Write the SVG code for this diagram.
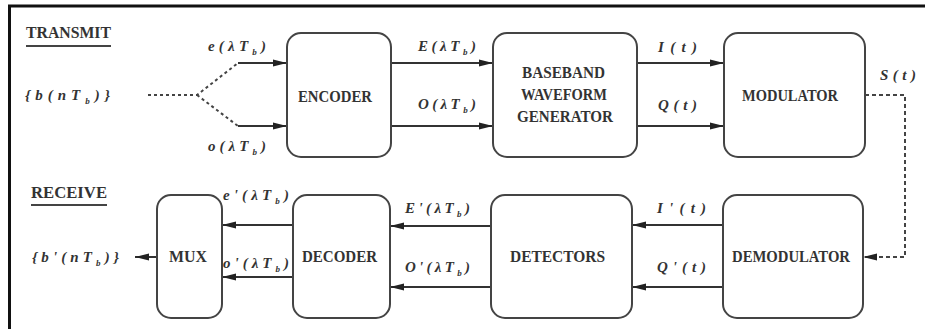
<svg xmlns="http://www.w3.org/2000/svg" width="925" height="329" viewBox="0 0 925 329">
<defs>
<marker id="ah" markerUnits="userSpaceOnUse" markerWidth="14" markerHeight="8" refX="14" refY="4" orient="auto">
<path d="M0,0.5 L14,4 L0,7.5 z" fill="#222"/>
</marker>
<style>
.box{fill:#fff;stroke:#444;stroke-width:2}
.lbl{font-family:"Liberation Serif","Times New Roman",serif;font-weight:bold;font-size:16px;fill:#333}
.m{font-family:"Liberation Serif","Times New Roman",serif;font-weight:bold;font-style:italic;font-size:15px;fill:#333}
.sub{font-size:9px}
.ln{fill:none;stroke:#333;stroke-width:2}
.dot{fill:none;stroke:#444;stroke-width:2;stroke-dasharray:3,3}
.dash{fill:none;stroke:#444;stroke-width:2;stroke-dasharray:4,3}
</style>
</defs>
<rect width="925" height="329" fill="#fff"/>
<path d="M8,6 H925 M9.5,5 V329" stroke="#111" stroke-width="3" fill="none"/>

<g id="titles">
<text class="lbl" x="26" y="38" textLength="85" lengthAdjust="spacingAndGlyphs">TRANSMIT</text>
<path d="M26,46 H111" stroke="#444" stroke-width="2"/>
<text class="lbl" x="31" y="198" textLength="76" lengthAdjust="spacingAndGlyphs">RECEIVE</text>
<path d="M31,205 H107" stroke="#444" stroke-width="2"/>
</g>

<g id="connectors">
<path class="dot" d="M148,95 H197 L238,63 M197,95 L238,126"/>
<path class="ln" d="M238,63 H287" marker-end="url(#ah)"/>
<path class="ln" d="M238,126 H287" marker-end="url(#ah)"/>
<path class="ln" d="M391,63 H493" marker-end="url(#ah)"/>
<path class="ln" d="M391,126 H493" marker-end="url(#ah)"/>
<path class="ln" d="M637,63 H724" marker-end="url(#ah)"/>
<path class="ln" d="M637,126 H724" marker-end="url(#ah)"/>
<path class="dash" d="M865,95 H905 V257 H863" marker-end="url(#ah)"/>
<path class="ln" d="M723,225 H632" marker-end="url(#ah)"/>
<path class="ln" d="M723,287 H632" marker-end="url(#ah)"/>
<path class="ln" d="M491,226 H390" marker-end="url(#ah)"/>
<path class="ln" d="M491,287 H390" marker-end="url(#ah)"/>
<path class="ln" d="M293,225 H222" marker-end="url(#ah)"/>
<path class="ln" d="M293,277 H222" marker-end="url(#ah)"/>
<path class="ln" d="M157,257 H135" marker-end="url(#ah)"/>
</g>

<g id="connector-labels">
<text class="m" x="25" y="100" textLength="85" lengthAdjust="spacing">{b(nT<tspan class="sub" dy="4">b</tspan><tspan dy="-4">)}</tspan></text>
<text class="m" x="208" y="51" textLength="58" lengthAdjust="spacing">e(λT<tspan class="sub" dy="4">b</tspan><tspan dy="-4">)</tspan></text>
<text class="m" x="208" y="151" textLength="58" lengthAdjust="spacing">o(λT<tspan class="sub" dy="4">b</tspan><tspan dy="-4">)</tspan></text>
<text class="m" x="418" y="51" textLength="58" lengthAdjust="spacing">E(λT<tspan class="sub" dy="4">b</tspan><tspan dy="-4">)</tspan></text>
<text class="m" x="418" y="109" textLength="58" lengthAdjust="spacing">O(λT<tspan class="sub" dy="4">b</tspan><tspan dy="-4">)</tspan></text>
<text class="m" x="658" y="52" textLength="39" lengthAdjust="spacing">I(t)</text>
<text class="m" x="658" y="110" textLength="39" lengthAdjust="spacing">Q(t)</text>
<text class="m" x="880" y="80" textLength="36" lengthAdjust="spacing">S(t)</text>
<text class="m" x="657" y="213" textLength="49" lengthAdjust="spacing">I'(t)</text>
<text class="m" x="657" y="272" textLength="49" lengthAdjust="spacing">Q'(t)</text>
<text class="m" x="405" y="213" textLength="65" lengthAdjust="spacing">E'(λT<tspan class="sub" dy="4">b</tspan><tspan dy="-4">)</tspan></text>
<text class="m" x="405" y="272" textLength="65" lengthAdjust="spacing">O'(λT<tspan class="sub" dy="4">b</tspan><tspan dy="-4">)</tspan></text>
<text class="m" x="223" y="200" textLength="66" lengthAdjust="spacing">e'(λT<tspan class="sub" dy="4">b</tspan><tspan dy="-4">)</tspan></text>
<text class="m" x="223" y="268" textLength="66" lengthAdjust="spacing">o'(λT<tspan class="sub" dy="4">b</tspan><tspan dy="-4">)</tspan></text>
<text class="m" x="32" y="262" textLength="87" lengthAdjust="spacing">{b'(nT<tspan class="sub" dy="4">b</tspan><tspan dy="-4">)}</tspan></text>
</g>

<g id="encoder">
<rect class="box" x="287" y="33" width="104" height="124" rx="14"/>
<text class="lbl" x="298" y="102" textLength="74" lengthAdjust="spacingAndGlyphs">ENCODER</text>
</g>
<g id="baseband">
<rect class="box" x="493" y="33" width="144" height="124" rx="14"/>
<text class="lbl" x="522" y="78" textLength="83" lengthAdjust="spacingAndGlyphs">BASEBAND</text>
<text class="lbl" x="521" y="100" textLength="86" lengthAdjust="spacingAndGlyphs">WAVEFORM</text>
<text class="lbl" x="517" y="122" textLength="96" lengthAdjust="spacingAndGlyphs">GENERATOR</text>
</g>
<g id="modulator">
<rect class="box" x="724" y="33" width="141" height="124" rx="14"/>
<text class="lbl" x="742" y="101" textLength="96" lengthAdjust="spacingAndGlyphs">MODULATOR</text>
</g>
<g id="mux">
<rect class="box" x="157" y="195" width="65" height="123" rx="14"/>
<text class="lbl" x="169" y="262" textLength="38" lengthAdjust="spacingAndGlyphs">MUX</text>
</g>
<g id="decoder">
<rect class="box" x="293" y="195" width="97" height="123" rx="14"/>
<text class="lbl" x="302" y="262" textLength="75" lengthAdjust="spacingAndGlyphs">DECODER</text>
</g>
<g id="detectors">
<rect class="box" x="491" y="195" width="141" height="123" rx="14"/>
<text class="lbl" x="510" y="262" textLength="95" lengthAdjust="spacingAndGlyphs">DETECTORS</text>
</g>
<g id="demodulator">
<rect class="box" x="723" y="195" width="140" height="123" rx="14"/>
<text class="lbl" x="732" y="262" textLength="118" lengthAdjust="spacingAndGlyphs">DEMODULATOR</text>
</g>
</svg>
